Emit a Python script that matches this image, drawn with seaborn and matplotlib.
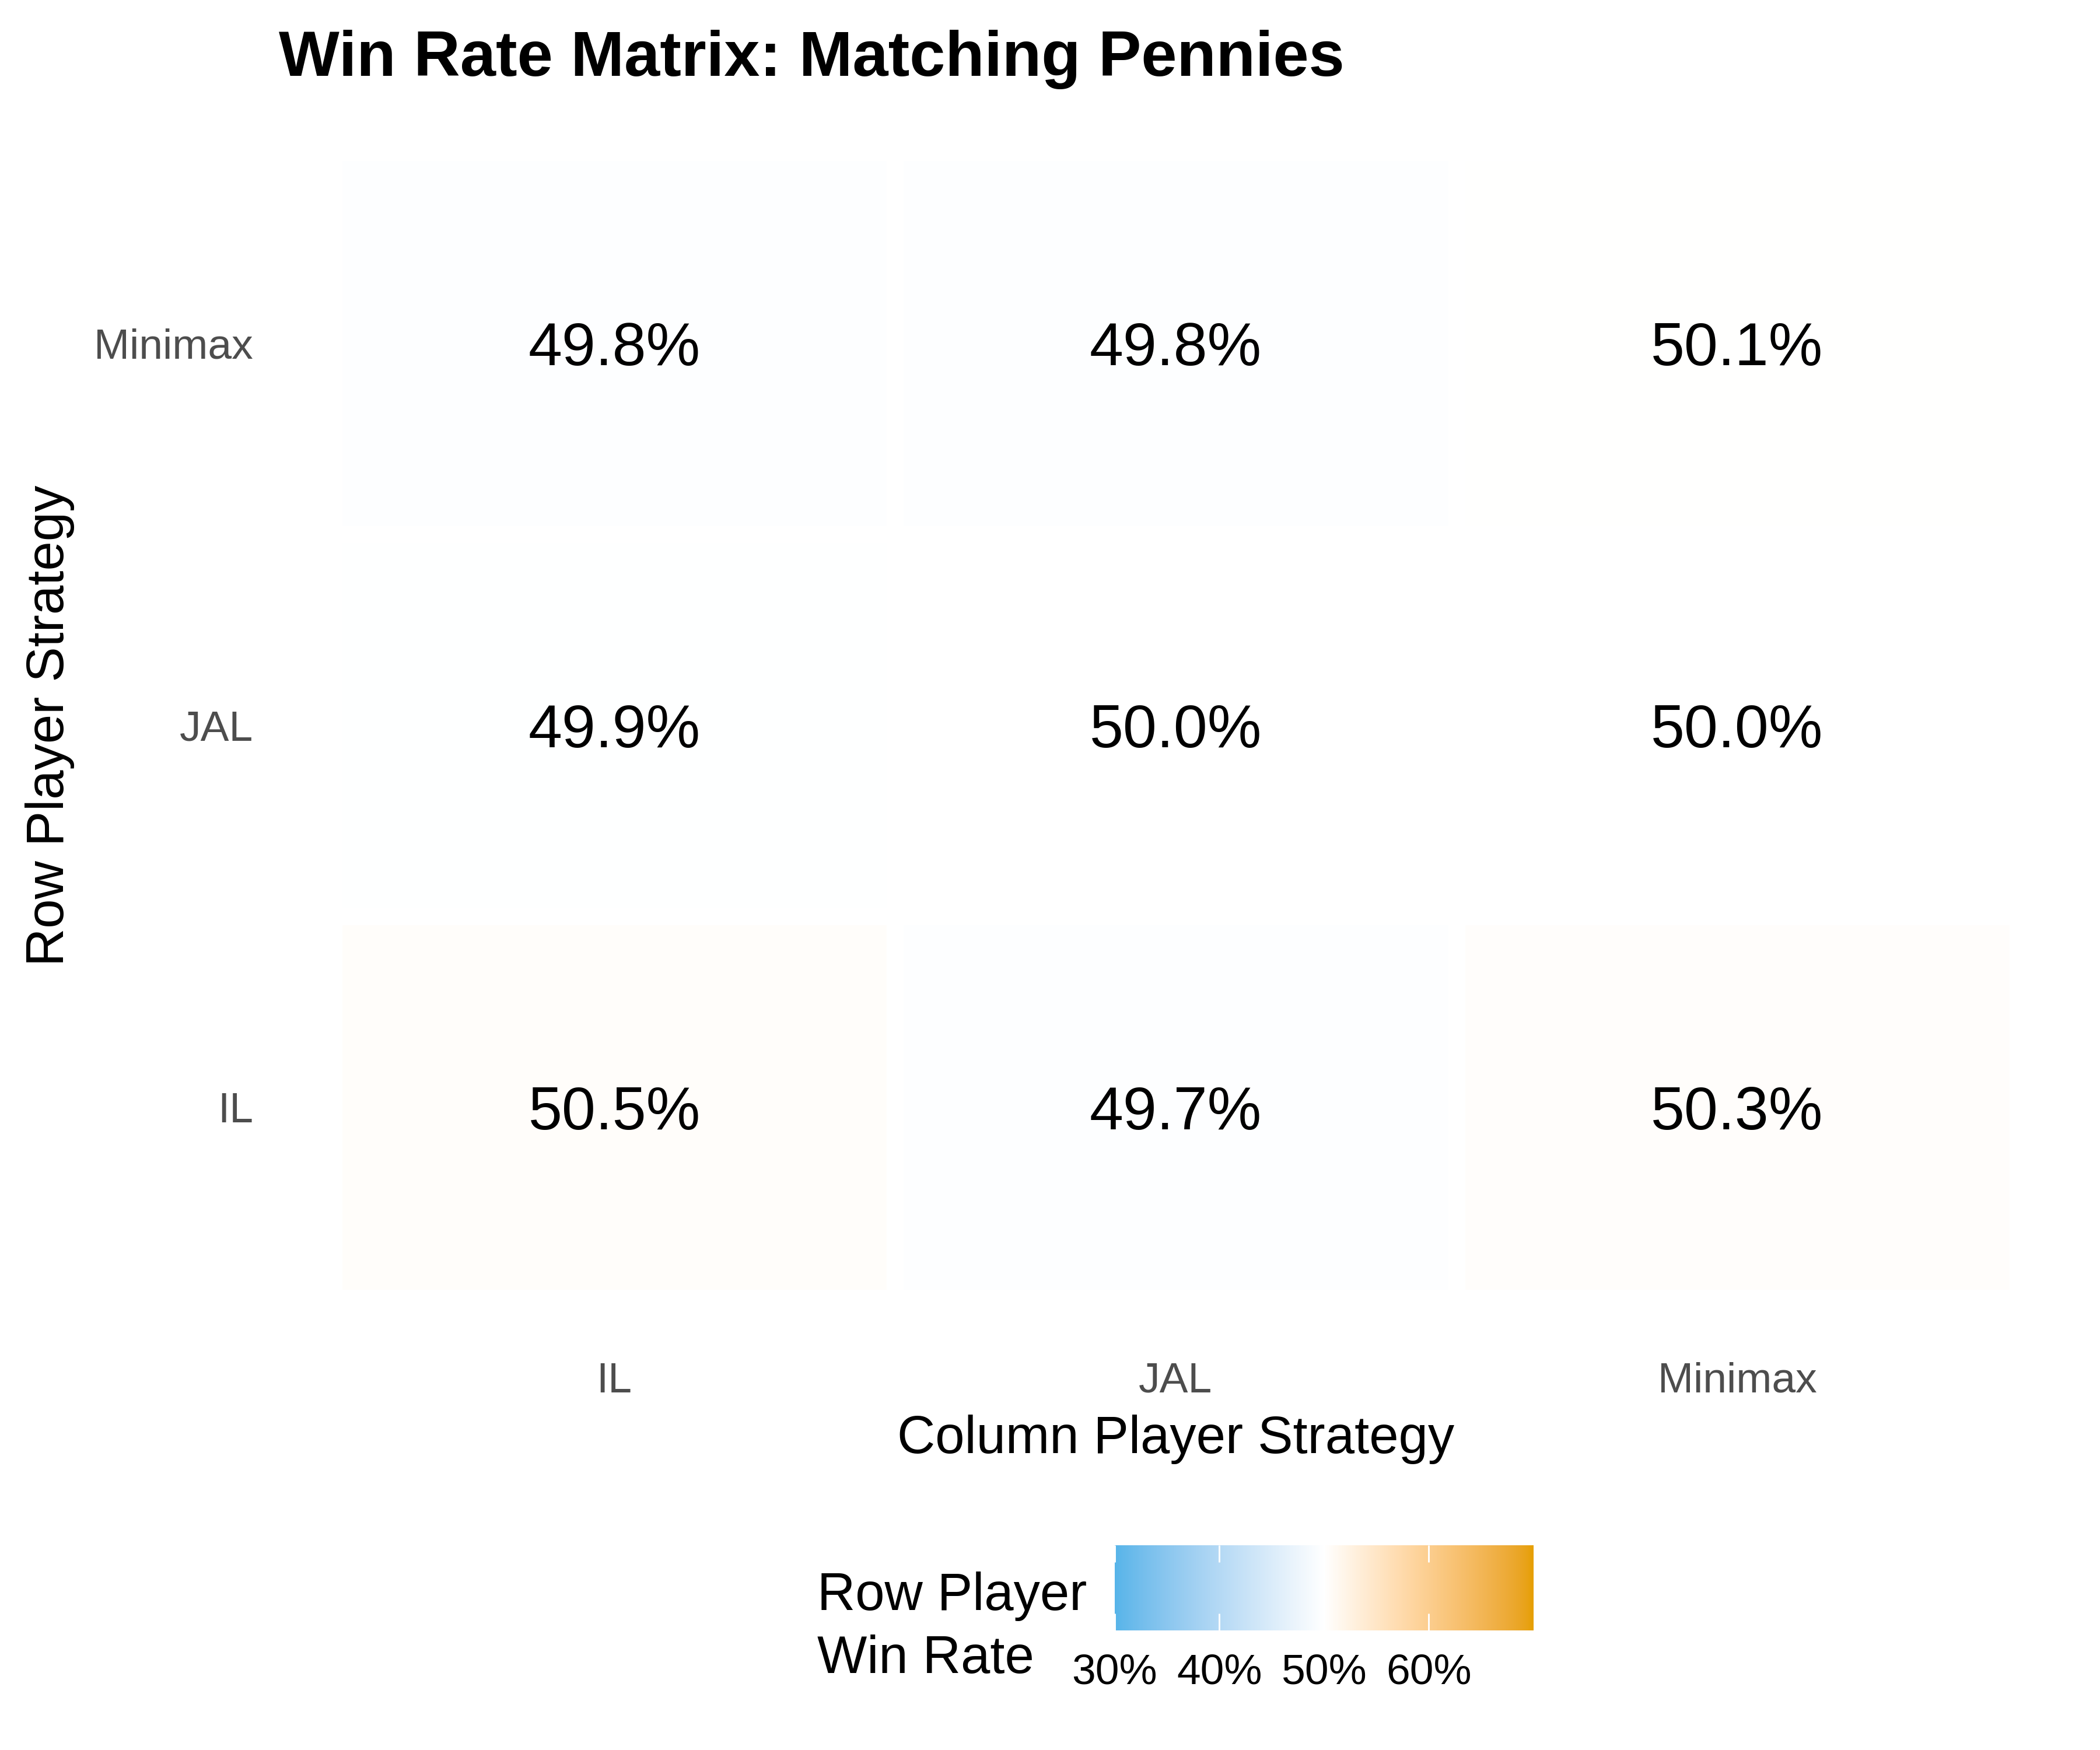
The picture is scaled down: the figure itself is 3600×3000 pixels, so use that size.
import numpy as np
import pandas as pd
import matplotlib
matplotlib.use('Agg')
import matplotlib.pyplot as plt
import seaborn as sns
from matplotlib.colors import ListedColormap, to_rgb


# Datos ======================================================================================================
strategies = ['IL', 'JAL', 'Minimax']           # column player strategy (x axis)
row_order  = ['Minimax', 'JAL', 'IL']           # row player strategy, top to bottom
win_minimax = [0.498, 0.498, 0.501]
win_jal     = [0.499, 0.500, 0.500]
win_il      = [0.505, 0.497, 0.503]
cbar_ticks  = [0.3, 0.4, 0.5, 0.6]
low_col, mid_col, high_col = '#56B4E9', '#FFFFFF', '#E69F00'


# Escala divergente (interpolación en Lab, como gradient2) ====================================================
M_RGB2XYZ = np.array([[0.4124, 0.3576, 0.1805], [0.2126, 0.7152, 0.0722], [0.0193, 0.1192, 0.9505]])
WHITE = np.array([0.95047, 1.0, 1.08883])

def srgb_to_lab(c):
    c = np.asarray(c, dtype=float)
    lin = np.where(c <= 0.04045, c / 12.92, ((c + 0.055) / 1.055) ** 2.4)
    xyz = M_RGB2XYZ @ lin / WHITE
    f = np.where(xyz > 0.008856, np.cbrt(xyz), 7.787 * xyz + 16 / 116)
    return np.array([116 * f[1] - 16, 500 * (f[0] - f[1]), 200 * (f[1] - f[2])])

def lab_to_srgb(lab):
    L, a, b = lab
    fy = (L + 16) / 116
    f = np.array([fy + a / 500, fy, fy - b / 200])
    xyz = np.where(f ** 3 > 0.008856, f ** 3, (f - 16 / 116) / 7.787) * WHITE
    lin = np.linalg.inv(M_RGB2XYZ) @ xyz
    c = np.where(lin <= 0.0031308, 12.92 * lin, 1.055 * np.clip(lin, 0, None) ** (1 / 2.4) - 0.055)
    return np.clip(c, 0, 1)

def lab_ramp(c1, c2, n):
    l1, l2 = srgb_to_lab(to_rgb(c1)), srgb_to_lab(to_rgb(c2))
    return [lab_to_srgb(l1 + (l2 - l1) * t) for t in np.linspace(0, 1, n)]

cmap = ListedColormap(lab_ramp(low_col, mid_col, 256)[:-1] + lab_ramp(mid_col, high_col, 256))


# Figura ======================================================================================================
sns.set_theme(style='white')
plt.rcParams['font.family'] = ['Liberation Sans', 'DejaVu Sans']

df = pd.DataFrame([win_minimax, win_jal, win_il], index=row_order, columns=strategies)
labels = df.map(lambda v: f'{v * 100:.1f}%')

fig = plt.figure(figsize=(12, 10), dpi=300)
ax  = fig.add_axes([0.1321, 0.2364, 0.8555, 0.6983])
cax = fig.add_axes([0.5308, 0.0682, 0.1994, 0.0487])

sns.heatmap(df, ax=ax, cmap=cmap, vmin=0.3, vmax=0.7,
            annot=labels, fmt='', annot_kws=dict(size=25, color='black', va='center_baseline'),
            linewidths=6.5, linecolor='white',
            cbar_ax=cax, cbar_kws=dict(orientation='horizontal', ticks=cbar_ticks))

ax.set_xlim(-0.1, 3.1)
ax.set_ylim(3.1, -0.1)
ax.tick_params(axis='both', length=0, labelsize=17.6, labelcolor='#4D4D4D')
ax.tick_params(axis='x', pad=10.6)
ax.tick_params(axis='y', pad=10)
plt.setp(ax.get_yticklabels(), rotation=0, va='center_baseline')
plt.setp(ax.get_xticklabels(), rotation=0)
for s in ax.spines.values():
    s.set_visible(False)

ax.set_xlabel('Column Player Strategy', fontsize=21.7, color='black')
ax.set_ylabel('Row Player Strategy', fontsize=21.7, color='black')
ax.xaxis.set_label_coords(0.5, -0.0842)
ax.xaxis.label.set_va('center')
ax.yaxis.set_label_coords(-0.1265, 0.5)
ax.yaxis.label.set_va('center')

# Barra de color
cbar = ax.collections[0].colorbar
cbar.outline.set_visible(False)
cbar.set_ticklabels([f'{int(t * 100)}%' for t in cbar_ticks])
cax.set_axisbelow(False)
cax.tick_params(axis='x', direction='in', color='white', width=0.7, length=7,
                top=True, bottom=True, labelsize=17.6, labelcolor='black', pad=9.5)

# Título de la leyenda, una línea por texto
fig.text(0.3892, 0.0877, 'Row Player', fontsize=21.7, color='black', ha='left', va='center')
fig.text(0.3892, 0.0517, 'Win Rate', fontsize=21.7, color='black', ha='left', va='center')

fig.text(0.1327, 0.9567, 'Win Rate Matrix: Matching Pennies', fontsize=26.4,
         fontweight='bold', color='black', ha='left', va='baseline')

plt.savefig('out.png', dpi=300)
